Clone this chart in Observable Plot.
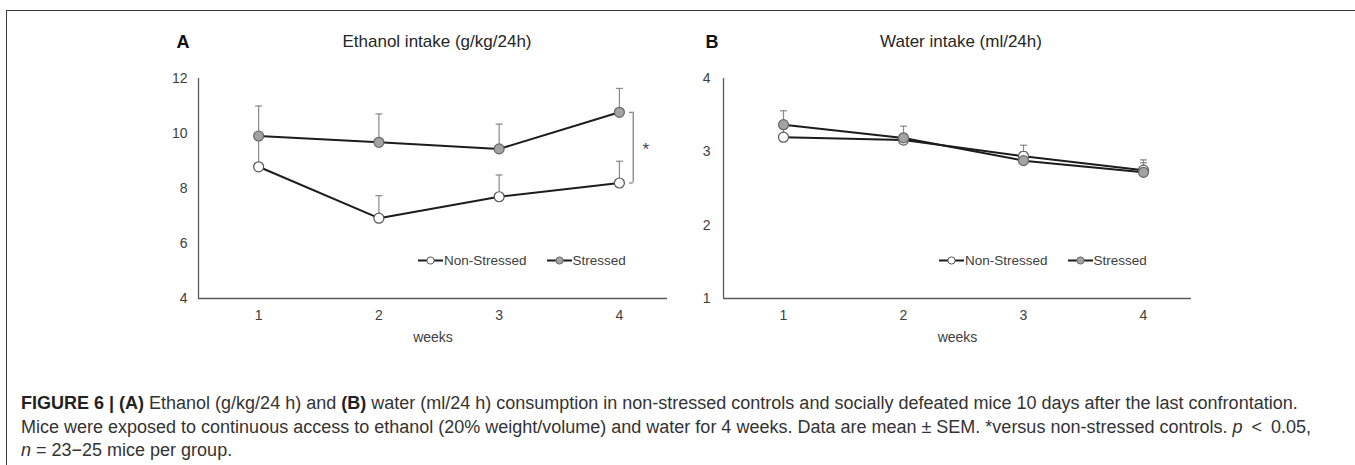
<!DOCTYPE html>
<html>
<head>
<meta charset="utf-8">
<script src="https://cdn.jsdelivr.net/npm/d3@7"></script>
<script src="https://cdn.jsdelivr.net/npm/@observablehq/plot@0.6"></script>
<style>
  html, body { margin: 0; padding: 0; background: #fff; }
  #root { position: relative; width: 1355px; height: 465px; overflow: hidden; font-family: "Liberation Sans", Arial, sans-serif; color: #333; }
  .abs { position: absolute; white-space: nowrap; }
  .center { transform: translate(-50%, -50%); }
  .frame { position: absolute; left: 6px; top: 9.5px; right: -10px; bottom: -10px; border-top: 1.5px solid #3a3a3a; border-left: 1.5px solid #3a3a3a; }
  .panel-letter { font-weight: bold; font-size: 18px; color: #111; }
  .panel-title { font-size: 17px; color: #262626; }
  .legend { display: flex; align-items: center; font-size: 13.5px; color: #404040; transform: translateY(-50%); }
  .legend svg { display: block; }
  .caption { font-size: 18px; line-height: 23.5px; color: #333; }
  .caption b { font-weight: bold; color: #222; }
</style>
</head>
<body>
<div id="root">
  <div class="frame"></div>
</div>
<script>
// ---- Data ----
const weeks = [1, 2, 3, 4];
const weekTicks = [1, 2, 3, 4];

const ethanolNonStressed    = [8.79, 6.92, 7.70, 8.20];
const ethanolNonStressedSem = [1.06, 0.82, 0.79, 0.79];
const ethanolStressed       = [9.91, 9.68, 9.44, 10.77];
const ethanolStressedSem    = [1.09, 1.03, 0.90, 0.87];
const ethanolTicks = [4, 6, 8, 10, 12];

const waterNonStressed    = [3.20, 3.16, 2.94, 2.75];
const waterNonStressedSem = [0.12, 0.09, 0.15, 0.10];
const waterStressed       = [3.37, 3.19, 2.88, 2.72];
const waterStressedSem    = [0.19, 0.16, 0.12, 0.17];
const waterTicks = [1, 2, 3, 4];

const seriesNames = ["Non-Stressed", "Stressed"];
const panelLetters = ["A", "B"];
const panelTitles = ["Ethanol intake (g/kg/24h)", "Water intake (ml/24h)"];
const xLabel = "weeks";
const significance = "*";

// ---- Styles ----
const lineColor = "#1c1c1c";
const errColor = "#8a8a8a";
const axisColor = "#5a5a5a";
const styles = {
  "Non-Stressed": {fill: "#ffffff", stroke: "#555555"},
  "Stressed": {fill: "#a3a3a3", stroke: "#666666"}
};

const capSymbol = {
  draw(context, size) {
    const r = Math.sqrt(size / Math.PI);
    context.moveTo(-r, 0);
    context.lineTo(r, 0);
  }
};

function rows(name, means, sems) {
  return weeks.map((w, i) => ({series: name, week: w, mean: means[i], top: means[i] + sems[i]}));
}

function makePanel({ns, nsSem, st, stSem, yTicks, marginLeft, marginRight, tickPadY, bracket}) {
  const nsRows = rows(seriesNames[0], ns, nsSem);
  const stRows = rows(seriesNames[1], st, stSem);
  const yMin = yTicks[0], yMax = yTicks[yTicks.length - 1];
  const marks = [
    Plot.ruleY([yMin], {stroke: axisColor, strokeWidth: 1.3}),
    Plot.ruleX([0.5], {stroke: axisColor, strokeWidth: 1.3}),
    Plot.axisX({ticks: weekTicks, tickSize: 0, tickPadding: 12, label: null, tickFormat: d => String(d)}),
    Plot.axisY({ticks: yTicks, tickSize: 0, tickPadding: tickPadY, label: null, tickFormat: d => String(d)}),
    Plot.text([xLabel], {frameAnchor: "bottom", dy: 43, text: d => d, fontSize: 14}),
  ];
  for (const r of [nsRows, stRows]) {
    marks.push(Plot.ruleX(r, {x: "week", y1: "mean", y2: "top", stroke: errColor, strokeWidth: 1.2}));
    marks.push(Plot.dot(r, {x: "week", y: "top", symbol: capSymbol, r: 3.5, fill: "none", stroke: errColor, strokeWidth: 1.2}));
  }
  for (const r of [nsRows, stRows]) {
    marks.push(Plot.line(r, {x: "week", y: "mean", stroke: lineColor, strokeWidth: 2}));
  }
  for (const r of [nsRows, stRows]) {
    const s = styles[r[0].series];
    marks.push(Plot.dot(r, {x: "week", y: "mean", r: 5, fill: s.fill, stroke: s.stroke, strokeWidth: 1.2}));
  }
  if (bracket) {
    const last = weeks.length - 1;
    const bx = weeks[last] + 0.115;
    const b = [{x: bx, y1: ns[last], y2: st[last]}];
    marks.push(Plot.ruleX(b, {x: "x", y1: "y1", y2: "y2", stroke: "#7a7a7a", strokeWidth: 1.2}));
    marks.push(Plot.ruleY([ns[last], st[last]], {x1: bx - 0.03, x2: bx, y: d => d, stroke: "#7a7a7a", strokeWidth: 1.2}));
    marks.push(Plot.text([significance], {x: bx + 0.105, y: (ns[last] + st[last]) / 2, text: d => d, fontSize: 17, fill: "#444", dy: 2}));
  }
  return Plot.plot({
    width: 560,
    height: 340,
    marginTop: 58,
    marginBottom: 62,
    marginLeft,
    marginRight,
    x: {domain: [0.5, 4.4]},
    y: {domain: [yMin, yMax]},
    style: {fontFamily: '"Liberation Sans", Arial, sans-serif', fontSize: "14px", color: "#404040", background: "transparent", overflow: "visible"},
    marks
  });
}

const root = document.getElementById("root");

function place(el, left, top) {
  el.style.position = "absolute";
  el.style.left = left + "px";
  el.style.top = top + "px";
  root.appendChild(el);
}

const panelA = makePanel({ns: ethanolNonStressed, nsSem: ethanolNonStressedSem, st: ethanolStressed, stSem: ethanolStressedSem,
  yTicks: ethanolTicks, marginLeft: 58, marginRight: 33, tickPadY: 11, bracket: true});
place(panelA, 140, 20);

const panelB = makePanel({ns: waterNonStressed, nsSem: waterNonStressedSem, st: waterStressed, stSem: waterStressedSem,
  yTicks: waterTicks, marginLeft: 33, marginRight: 59, tickPadY: 13, bracket: false});
place(panelB, 690, 20);

function textDiv(cls, text, x, y) {
  const d = document.createElement("div");
  d.className = "abs center " + cls;
  d.textContent = text;
  d.style.left = x + "px";
  d.style.top = y + "px";
  root.appendChild(d);
}
textDiv("panel-letter", panelLetters[0], 183, 42);
textDiv("panel-title", panelTitles[0], 437, 42);
textDiv("panel-letter", panelLetters[1], 712, 42);
textDiv("panel-title", panelTitles[1], 961, 42);

function swatch(s) {
  const ns = "http://www.w3.org/2000/svg";
  const svg = document.createElementNS(ns, "svg");
  svg.setAttribute("width", 25); svg.setAttribute("height", 10);
  const l = document.createElementNS(ns, "line");
  l.setAttribute("x1", 0); l.setAttribute("x2", 25); l.setAttribute("y1", 5); l.setAttribute("y2", 5);
  l.setAttribute("stroke", lineColor); l.setAttribute("stroke-width", 2);
  const c = document.createElementNS(ns, "circle");
  c.setAttribute("cx", 12.5); c.setAttribute("cy", 5); c.setAttribute("r", 3.6);
  c.setAttribute("fill", s.fill); c.setAttribute("stroke", s.stroke); c.setAttribute("stroke-width", 1);
  svg.appendChild(l); svg.appendChild(c);
  return svg;
}
function legend(x, y) {
  const d = document.createElement("div");
  d.className = "abs legend";
  d.style.left = x + "px"; d.style.top = y + "px";
  seriesNames.forEach((name, i) => {
    d.appendChild(swatch(styles[name]));
    const t = document.createElement("span");
    t.textContent = name;
    t.style.marginLeft = "1px";
    t.style.marginRight = i === 0 ? "20px" : "0";
    d.appendChild(t);
  });
  root.appendChild(d);
}
legend(418, 260);
legend(939, 260);

const cap = document.createElement("div");
cap.className = "abs caption";
cap.style.left = "21px";
cap.style.top = "392px";
cap.innerHTML = '<b>FIGURE 6 | (A)</b> Ethanol (g/kg/24 h) and <b>(B)</b> water (ml/24 h) consumption in non-stressed controls and socially defeated mice 10 days after the last confrontation.<br>' +
  'Mice were exposed to continuous access to ethanol (20% weight/volume) and water for 4 weeks. Data are mean \u00B1 SEM. *versus non-stressed controls. <i>p</i>\u2002&lt;\u20020.05,<br>' +
  '<i>n</i> = 23\u221225 mice per group.';
root.appendChild(cap);
</script>
</body>
</html>
